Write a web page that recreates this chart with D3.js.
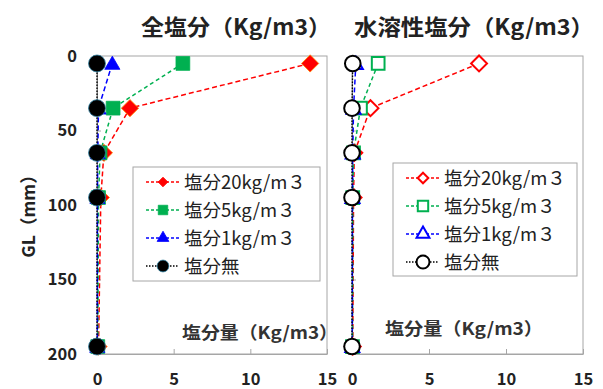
<!DOCTYPE html>
<html><head><meta charset="utf-8">
<script src="https://cdn.jsdelivr.net/npm/d3@7"></script>
<style>
html,body{margin:0;padding:0;background:#fff;}
svg{display:block;}
text{font-family:"Noto Sans CJK JP","Noto Sans",sans-serif;}
</style></head>
<body>
<svg id="c" width="603" height="389"></svg>
<script>
// ---- data ----
const depths = [5, 35, 65, 95, 195];
const seriesNames = ["塩分20kg/m３", "塩分5kg/m３", "塩分1kg/m３", "塩分無"];
const totalSalt20 = [13.9, 2.15, 0.45, 0.25, 0.1];
const totalSalt5  = [5.6, 1.05, 0.2, 0.1, 0.05];
const totalSalt1  = [1.0, 0.1, 0.05, 0.03, 0.02];
const totalSalt0  = [0, 0, 0, 0, 0];
const waterSalt20 = [8.25, 1.2, 0.15, 0.1, 0.05];
const waterSalt5  = [1.7, 0.55, 0.1, 0.05, 0.03];
const waterSalt1  = [0.25, 0.1, 0.05, 0.03, 0.02];
const waterSalt0  = [0.05, 0, 0, 0, 0];
const xTicks = [0, 5, 10, 15];
const yTicks = [0, 50, 100, 150, 200];
const titleLeft = "全塩分（Kg/m3）";
const titleRight = "水溶性塩分（Kg/m3）";
const yLabel = "GL（mm）";
const xLabel = "塩分量（Kg/m3）";

const colors = ["#ff0000", "#00b050", "#0000ff", "#000000"];
const dashes = ["5,3", "4,3", "5,3", "1.5,1.5"];
const shapes = [d3.symbolDiamond2, d3.symbolSquare, d3.symbolTriangle, d3.symbolCircle];
const sizes = [190, 190, 100, 225];
const legSizes = [60, 90, 60, 110];

const svg = d3.select("#c");
const y = d3.scaleLinear().domain([0, 200]).range([56, 354]);

function panel(x, data, filled, showYLabels, title, titlePos, xlab, legendPos) {
  const g = svg.append("g");
  // frame
  g.append("rect").attr("x", x(0)).attr("y", y(0))
    .attr("width", x(15) - x(0)).attr("height", y(200) - y(0))
    .attr("fill", "none").attr("stroke", "#a6a6a6").attr("stroke-width", 1);
  // x axis
  const xa = g.append("g").attr("transform", `translate(0,${y(200)})`)
    .call(d3.axisBottom(x).tickValues(xTicks).tickSizeInner(-5).tickSizeOuter(0).tickPadding(20));
  xa.select(".domain").attr("stroke", "#a6a6a6");
  xa.selectAll(".tick line").attr("stroke", "#a6a6a6");
  xa.selectAll("text").attr("y", 31).attr("dy", null)
    .attr("font-family", "Liberation Sans, Arial, sans-serif")
    .attr("font-weight", "bold").attr("font-size", 16.5).attr("fill", "#222");
  // y axis
  const ya = g.append("g").attr("transform", `translate(${x(0)},0)`)
    .call(d3.axisLeft(y).tickValues(yTicks).tickSizeInner(-4).tickSizeOuter(0).tickPadding(20)
      .tickFormat(showYLabels ? d3.format("d") : () => ""));
  ya.select(".domain").attr("stroke", "#808080");
  ya.selectAll(".tick line").attr("stroke", "#a6a6a6");
  ya.selectAll("text").attr("font-family", "Liberation Sans, Arial, sans-serif")
    .attr("font-weight", "bold").attr("font-size", 16.5).attr("fill", "#222");

  // series
  data.forEach((vals, i) => {
    const pts = vals.map((v, j) => [x(v), y(depths[j])]);
    g.append("path").attr("d", d3.line()(pts)).attr("fill", "none")
      .attr("stroke", colors[i]).attr("stroke-width", i === 3 ? 1.3 : 1.5)
      .attr("stroke-dasharray", dashes[i]);
  });
  data.forEach((vals, i) => {
    const sym = d3.symbol().type(shapes[i]).size(filled ? sizes[i] : sizes[i] * 0.85);
    g.selectAll(null).data(vals).join("path")
      .attr("transform", (v, j) => `translate(${x(v)},${y(depths[j]) + (i === 2 ? 1.5 : 0)})`)
      .attr("d", sym)
      .attr("fill", filled ? colors[i] : "#fff")
      .attr("stroke", filled ? (i === 0 ? "#ff8c00" : (i === 3 ? "#2f7fa0" : colors[i])) : colors[i])
      .attr("stroke-width", filled ? 0.8 : 2);
  });

  // title
  g.append("text").attr("x", titlePos[0]).attr("y", 35)
    .attr("font-size", 22).attr("font-weight", "bold").attr("fill", "#222")
    .attr("textLength", titlePos[1]).attr("lengthAdjust", "spacingAndGlyphs").text(title);
  // x label
  g.append("text").attr("x", xlab[0]).attr("y", xlab[1])
    .attr("font-size", 17.5).attr("font-weight", "bold").attr("fill", "#333")
    .attr("textLength", xlab[2]).attr("lengthAdjust", "spacingAndGlyphs").text(xLabel);

  // legend
  const [lx, ly, lw, lh, ls] = legendPos;
  const lg = g.append("g");
  lg.append("rect").attr("x", lx).attr("y", ly).attr("width", lw).attr("height", lh)
    .attr("fill", "#fff").attr("stroke", "#a6a6a6");
  seriesNames.forEach((name, i) => {
    const cy = ly + 15 + i * ls;
    lg.append("line").attr("x1", lx + 13).attr("x2", lx + 46).attr("y1", cy).attr("y2", cy)
      .attr("stroke", colors[i]).attr("stroke-width", 1.5).attr("stroke-dasharray", i === 3 ? "1.5,1.5" : "3,2");
    lg.append("path").attr("transform", `translate(${lx + 30},${cy})`)
      .attr("d", d3.symbol().type(shapes[i]).size(filled ? legSizes[i] : legSizes[i] * 1.2)())
      .attr("fill", filled ? colors[i] : "#fff")
      .attr("stroke", filled ? (i === 3 ? "#2f7fa0" : colors[i]) : colors[i])
      .attr("stroke-width", filled ? 0.8 : 2);
    lg.append("text").attr("x", lx + 51).attr("y", cy + 6.5)
      .attr("font-size", 18.5).attr("fill", "#222").text(name);
  });
}

const xL = d3.scaleLinear().domain([0, 15]).range([97, 327]);
const xR = d3.scaleLinear().domain([0, 15]).range([352, 583]);

panel(xL, [totalSalt20, totalSalt5, totalSalt1, totalSalt0], true, true, titleLeft, [141, 190], [182, 339, 156], [133, 167, 187, 114, 28]);
panel(xR, [waterSalt20, waterSalt5, waterSalt1, waterSalt0], false, false, titleRight, [354, 240], [385, 335, 158], [393, 163, 184, 113, 28]);

// y label
svg.append("text").attr("transform", "translate(35,212) rotate(-90)")
  .attr("text-anchor", "middle").attr("font-size", 17.5).attr("font-weight", "bold")
  .attr("fill", "#222").text(yLabel);
</script>
</body></html>
